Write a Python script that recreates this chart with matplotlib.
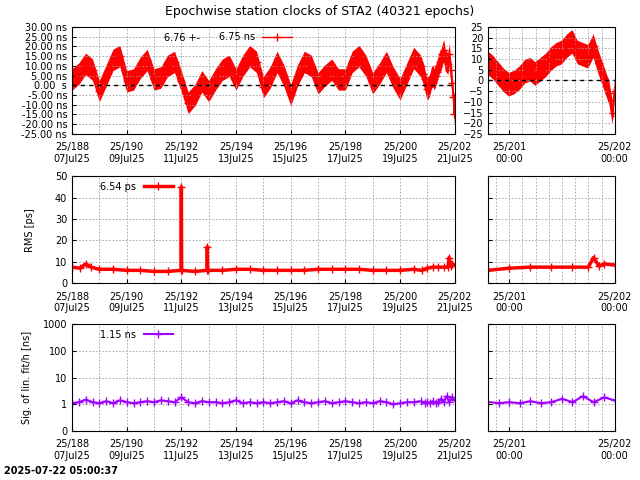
import numpy as np
import matplotlib.pyplot as plt
from matplotlib.ticker import FixedLocator, MultipleLocator, FixedFormatter

# clock offsets [ns], day of year 2025
clk_day = [188.00, 188.25, 188.50, 188.75, 189.00, 189.25, 189.50, 189.75,
           190.00, 190.25, 190.50, 190.75, 191.00, 191.25, 191.50, 191.75,
           192.00, 192.25, 192.50, 192.75, 193.00, 193.25, 193.50, 193.75,
           194.00, 194.25, 194.50, 194.75, 195.00, 195.25, 195.50, 195.75,
           196.00, 196.25, 196.50, 196.75, 197.00, 197.25, 197.50, 197.75,
           198.00, 198.25, 198.50, 198.75, 199.00, 199.25, 199.50, 199.75,
           200.00, 200.25, 200.50, 200.75, 200.85, 200.90, 200.95, 201.00,
           201.05, 201.10, 201.15, 201.20, 201.25, 201.30, 201.35, 201.40,
           201.45, 201.50, 201.55, 201.60, 201.65, 201.70, 201.75, 201.80,
           201.85, 201.90, 201.95, 201.98, 202.00]
clk_val = [3, 6, 11, 8, -3, 5, 13, 15,
           2, 3, 9, 13, 3, 4, 10, 12,
           2, -9, -5, 2, -3, 3, 8, 10,
           3, 10, 15, 12, -1, 4, 12, 5,
           -5, 5, 12, 10, 1, 5, 8, 3,
           3, 12, 15, 10, 1, 6, 12, 4,
           -2, 6, 14, 10, 6, 3, 0, -2,
           -1, 1, 4, 5, 3, 5, 7, 10,
           12, 13, 16, 18, 13, 12, 11, 16,
           8, 1, -6, -15, -5]
clk_spread = 5.5

# RMS [ps]
rms_day = [188.0, 188.3, 188.5, 188.7, 189.0, 189.5, 190.0, 190.5, 191.0, 191.5,
           191.99, 192.0, 192.01, 192.5, 192.94, 192.95, 192.96, 193.5, 194.0,
           194.5, 195.0, 195.5, 196.0, 196.5, 197.0, 197.5, 198.0, 198.5, 199.0,
           199.5, 200.0, 200.5, 200.8, 201.0, 201.2, 201.4, 201.6, 201.75,
           201.8, 201.85, 201.9, 202.0]
rms_val = [7.5, 7.0, 9.0, 7.5, 6.5, 6.5, 6.0, 6.0, 5.5, 5.5,
           6.0, 45.0, 6.0, 5.5, 6.0, 17.0, 6.0, 6.0, 6.5,
           6.5, 6.0, 6.0, 6.0, 6.0, 6.5, 6.5, 6.5, 6.5, 6.0,
           6.0, 6.0, 6.5, 6.0, 7.0, 7.5, 7.5, 7.5, 7.5,
           12.0, 8.0, 9.0, 8.5]

# sigma of linear fit [ns]
sig_day = [188.0, 188.25, 188.5, 188.75, 189.0, 189.25, 189.5, 189.75, 190.0, 190.25,
           190.5, 190.75, 191.0, 191.25, 191.5, 191.75, 192.0, 192.25, 192.5, 192.75,
           193.0, 193.25, 193.5, 193.75, 194.0, 194.25, 194.5, 194.75, 195.0, 195.25,
           195.5, 195.75, 196.0, 196.25, 196.5, 196.75, 197.0, 197.25, 197.5, 197.75,
           198.0, 198.25, 198.5, 198.75, 199.0, 199.25, 199.5, 199.75, 200.0, 200.25,
           200.5, 200.75, 200.9, 201.0, 201.1, 201.2, 201.3, 201.4, 201.5, 201.6,
           201.7, 201.8, 201.9, 202.0]
sig_val = [1.1, 1.2, 1.5, 1.2, 1.1, 1.3, 1.1, 1.4, 1.2, 1.1,
           1.2, 1.3, 1.2, 1.4, 1.3, 1.2, 1.8, 1.2, 1.1, 1.3,
           1.2, 1.2, 1.1, 1.2, 1.4, 1.1, 1.2, 1.1, 1.2, 1.1,
           1.2, 1.3, 1.1, 1.4, 1.2, 1.1, 1.2, 1.3, 1.1, 1.2,
           1.3, 1.2, 1.1, 1.2, 1.1, 1.3, 1.2, 1.0, 1.1, 1.2,
           1.2, 1.3, 1.1, 1.2, 1.1, 1.3, 1.1, 1.2, 1.6, 1.2,
           2.0, 1.2, 1.8, 1.4]

left_ticks = [188, 190, 192, 194, 196, 198, 200, 202]
left_labels = ["25/188\n07Jul25", "25/190\n09Jul25", "25/192\n11Jul25", "25/194\n13Jul25",
               "25/196\n15Jul25", "25/198\n17Jul25", "25/200\n19Jul25", "25/202\n21Jul25"]
right_ticks = [201, 202]
right_labels = ["25/201\n00:00", "25/202\n00:00"]

RED = "#ff0000"
VIOLET = "#a000ff"
plt.rcParams["font.size"] = 7

fig = plt.figure(figsize=(6.4, 4.8), dpi=100)
fig.text(0.5, 0.975, "Epochwise station clocks of STA2 (40321 epochs)", ha="center", va="center", fontsize=9)
fig.text(0.006, 0.013, "2025-07-22 05:00:37", fontsize=7, fontweight="bold")

rows = [0.721, 0.410, 0.102]
h = 0.223
cd = np.array(clk_day)
cv = np.array(clk_val)


def style(ax, right):
    ax.grid(True, color="#a0a0a0", linestyle=(0, (2, 2)), linewidth=0.6)
    ax.tick_params(direction="in", length=3)
    ax.tick_params(axis="x", pad=6)
    if right:
        ax.set_xlim(200.8, 202.0)
        ax.xaxis.set_major_locator(FixedLocator(right_ticks))
        ax.xaxis.set_major_formatter(FixedFormatter(right_labels))
        ax.xaxis.set_minor_locator(MultipleLocator(0.125))
    else:
        ax.set_xlim(188, 202)
        ax.xaxis.set_major_locator(FixedLocator(left_ticks))
        ax.xaxis.set_major_formatter(FixedFormatter(left_labels))
        ax.xaxis.set_minor_locator(MultipleLocator(1))
    ax.grid(True, which="minor", axis="x", color="#a0a0a0", linestyle=(0, (2, 2)), linewidth=0.6)
    ax.tick_params(which="minor", length=0)


for right in [False, True]:
    x0, w = (0.1125, 0.598) if not right else (0.7625, 0.198)
    # clocks
    ax = fig.add_axes([x0, rows[0], w, h])
    ax.fill_between(cd, cv - clk_spread, cv + clk_spread, color=RED, linewidth=0)
    ax.plot(cd, cv, color=RED, linewidth=1, marker="+", markersize=6, label="6.75 ns")
    ax.axhline(0, color="black", linestyle=(0, (3, 3)), linewidth=1)
    ax.set_ylim(-25, 30 if not right else 25)
    style(ax, right)
    if not right:
        ax.set_yticks(np.arange(-25, 31, 5))
        ax.set_yticklabels(["%.2f ns" % v if v != 0 else "0.00  s" for v in np.arange(-25, 31, 5)])
        ax.text(0.24, 0.9, "6.76 +-", transform=ax.transAxes, va="center")
        ax.legend(loc="upper left", bbox_to_anchor=(0.36, 1.03), frameon=False,
                  markerfirst=False, handlelength=3)
    else:
        ax.set_yticks(np.arange(-25, 26, 5))
    # rms
    ax = fig.add_axes([x0, rows[1], w, h])
    ax.plot(rms_day, rms_val, color=RED, linewidth=2.5, marker="+", markersize=6, label="6.54 ps")
    ax.set_ylim(0, 50)
    ax.set_yticks(range(0, 51, 10))
    style(ax, right)
    if not right:
        ax.set_ylabel("RMS [ps]", labelpad=14)
        ax.legend(loc="upper left", bbox_to_anchor=(0.05, 1.03), frameon=False,
                  markerfirst=False, handlelength=3)
    else:
        ax.set_yticklabels([])
    # sigma
    ax = fig.add_axes([x0, rows[2], w, h])
    ax.plot(sig_day, sig_val, color=VIOLET, linewidth=1.5, marker="+", markersize=6, label="1.15 ns")
    ax.set_yscale("log")
    ax.set_ylim(0.1, 1000)
    ax.set_yticks([0.1, 1, 10, 100, 1000])
    ax.set_yticklabels(["0", "1", "10", "100", "1000"])
    ax.yaxis.set_minor_locator(FixedLocator([]))
    style(ax, right)
    if not right:
        ax.set_ylabel("Sig. of lin. fit/h [ns]", labelpad=8)
        ax.legend(loc="upper left", bbox_to_anchor=(0.05, 1.03), frameon=False,
                  markerfirst=False, handlelength=3)
    else:
        ax.set_yticklabels([])

fig.savefig("out.png")
